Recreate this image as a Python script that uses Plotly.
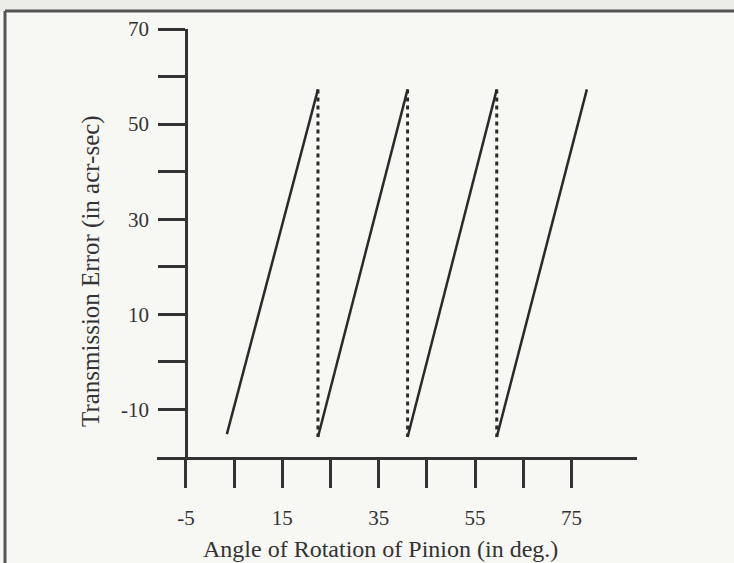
import plotly.graph_objects as go

# sawtooth of transmission error, one tooth per mesh cycle
angle_low = [3.5, 22.4, 41.0, 59.5]
angle_high = [22.4, 41.0, 59.5, 78.2]
error_low = [-15.2, -15.8, -15.8, -15.8]
error_high = [57.3, 57.3, 57.3, 57.3]

x_ticks = [-5, 5, 15, 25, 35, 45, 55, 65, 75]
x_labels = ["-5", "", "15", "", "35", "", "55", "", "75"]
y_ticks = [-10, 0, 10, 20, 30, 40, 50, 60, 70]
y_labels = ["-10", "", "10", "", "30", "", "50", "", "70"]

W, H = 734, 563
L, R, T, B = 157, 637, 29, 457


def px(x):
    return (x - L) / (R - L)


def py(y):
    return (B - y) / (B - T)


# solid rising segments
sx, sy = [], []
for a0, a1, e0, e1 in zip(angle_low, angle_high, error_low, error_high):
    sx += [a0, a1, None]
    sy += [e0, e1, None]

# dotted drops between teeth
dx, dy = [], []
for i in range(len(angle_high) - 1):
    dx += [angle_high[i], angle_high[i], None]
    dy += [error_high[i], error_low[i + 1], None]

ink = "#2a2a2a"
serif = "Liberation Serif, Times New Roman, serif"
tick_font = dict(family=serif, size=21, color="#333")
title_font = dict(family=serif, size=24, color="#333")

fig = go.Figure()
fig.add_trace(go.Scatter(x=sx, y=sy, mode="lines",
                         line=dict(color=ink, width=2.5), showlegend=False))
fig.add_trace(go.Scatter(x=dx, y=dy, mode="lines",
                         line=dict(color=ink, width=3, dash="4px,4px"), showlegend=False))

axis_common = dict(showgrid=False, zeroline=False, showline=True,
                   linecolor="#333", linewidth=2.5, ticks="outside",
                   tickcolor="#333", tickwidth=2.5, tickfont=tick_font)

fig.update_xaxes(range=[-11, 88.6], tickvals=x_ticks, ticktext=x_labels,
                 ticklen=28, ticklabelstandoff=12, **axis_common)
fig.update_yaxes(range=[-20, 70], tickvals=y_ticks, ticktext=y_labels,
                 ticklen=27, ticklabelstandoff=5, anchor="free",
                 position=px(186), **axis_common)

fig.update_layout(
    width=W, height=H,
    margin=dict(l=L, r=W - R, t=T, b=H - B),
    paper_bgcolor="#f7f7f3", plot_bgcolor="rgba(0,0,0,0)",
    font=tick_font,
    shapes=[
        dict(type="rect", xref="paper", yref="paper", layer="below",
             x0=px(0), x1=px(W), y0=py(11), y1=py(0),
             fillcolor="#ebebe8", line=dict(width=0)),
        dict(type="line", xref="paper", yref="paper",
             x0=px(5), x1=px(W), y0=py(11), y1=py(11),
             line=dict(color="#555", width=3)),
        dict(type="line", xref="paper", yref="paper",
             x0=px(5), x1=px(5), y0=py(11), y1=py(H),
             line=dict(color="#555", width=3)),
    ],
    annotations=[
        dict(text="Angle of Rotation of Pinion (in deg.)", xref="paper", yref="paper",
             x=px(380), y=py(549), xanchor="center", yanchor="middle",
             showarrow=False, font=title_font),
        dict(text="Transmission Error (in acr-sec)", xref="paper", yref="paper",
             x=px(91), y=py(271), xanchor="center", yanchor="middle",
             showarrow=False, textangle=-90, font=dict(title_font, size=25)),
    ],
)

# the page has a default 8px body margin; drop it so the figure sits at 0,0
fig.write_html("out.html", config={"displayModeBar": False},
               post_script="document.body.style.margin='0px';")
